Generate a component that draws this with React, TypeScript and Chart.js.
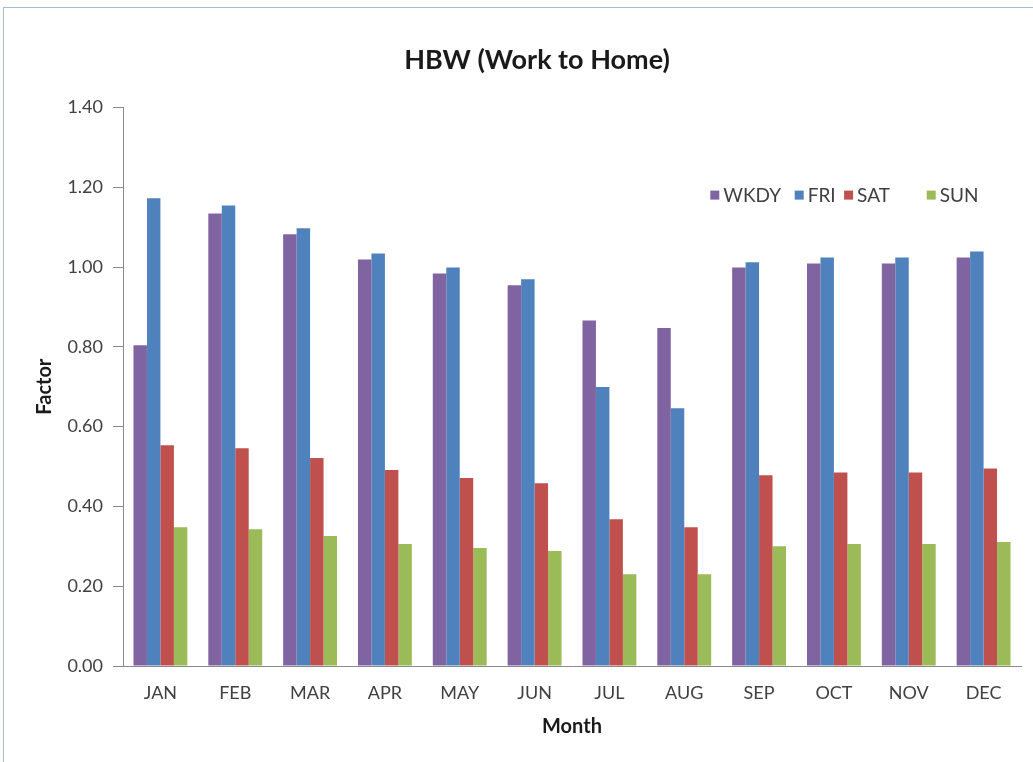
import React, { useEffect, useRef } from "react";
import { Chart, registerables } from "chart.js";

Chart.register(...registerables);

const months = ["JAN", "FEB", "MAR", "APR", "MAY", "JUN", "JUL", "AUG", "SEP", "OCT", "NOV", "DEC"];
const seriesNames = ["WKDY", "FRI", "SAT", "SUN"];
const seriesColors = ["#8064A2", "#4F81BD", "#C0504D", "#9BBB59"];
const wkdy = [0.804, 1.134, 1.082, 1.019, 0.984, 0.954, 0.866, 0.847, 0.999, 1.009, 1.009, 1.024];
const fri = [1.172, 1.154, 1.097, 1.034, 0.999, 0.969, 0.699, 0.646, 1.012, 1.024, 1.024, 1.039];
const sat = [0.553, 0.546, 0.521, 0.491, 0.471, 0.458, 0.368, 0.348, 0.478, 0.485, 0.485, 0.495];
const sun = [0.348, 0.343, 0.326, 0.306, 0.296, 0.288, 0.23, 0.23, 0.3, 0.306, 0.306, 0.311];
const yMin = 0;
const yMax = 1.4;
const yStep = 0.2;

const FONT = "Lato, 'Open Sans', sans-serif";

// legend drawn inside the plot area, top right
const legendAnchors = [0.654, 0.748, 0.803, 0.895];
const insideLegend = {
  id: "insideLegend",
  afterDraw(chart: any) {
    const { ctx, chartArea } = chart;
    const w = chartArea.right - chartArea.left;
    const h = chartArea.bottom - chartArea.top;
    const cy = chartArea.top + h * 0.157;
    ctx.save();
    ctx.font = `19px ${FONT}`;
    ctx.textBaseline = "middle";
    ctx.textAlign = "left";
    chart.data.datasets.forEach((ds: any, i: number) => {
      const x = chartArea.left + w * legendAnchors[i];
      ctx.fillStyle = ds.backgroundColor;
      ctx.fillRect(x, cy - 4.5, 9, 9);
      ctx.fillStyle = "#404040";
      ctx.fillText(ds.label, x + 13, cy + 1);
    });
    ctx.restore();
  },
};

export default function App() {
  const ref = useRef<HTMLCanvasElement | null>(null);

  useEffect(() => {
    if (!ref.current) return;
    const data = [wkdy, fri, sat, sun];
    const chart = new Chart(ref.current, {
      type: "bar",
      data: {
        labels: months,
        datasets: seriesNames.map((name, i) => ({
          label: name,
          data: data[i],
          backgroundColor: seriesColors[i],
          borderWidth: 0,
          barPercentage: 1,
          categoryPercentage: 0.72,
        })),
      },
      options: {
        responsive: false,
        animation: false,
        devicePixelRatio: 1,
        layout: { padding: { left: 53, right: 12, top: 0, bottom: 0 } },
        plugins: {
          legend: { display: false },
          tooltip: { enabled: false },
          title: {
            display: true,
            text: "HBW (Work to Home)",
            color: "#1a1a1a",
            font: { family: FONT, size: 27, weight: "bold" },
            padding: { top: 44, bottom: 31 },
          },
        },
        scales: {
          x: {
            grid: { display: false },
            border: { display: true, color: "#8a8a8a", width: 1 },
            ticks: { color: "#404040", font: { family: FONT, size: 18 }, padding: 8 },
            title: {
              display: true,
              text: "Month",
              color: "#1a1a1a",
              font: { family: FONT, size: 20, weight: "bold" },
              padding: { top: 0, bottom: 23 },
            },
            afterFit: (s: any) => {
              s.height = 96;
            },
          },
          y: {
            min: yMin,
            max: yMax,
            grid: { drawOnChartArea: false, drawTicks: true, tickLength: 10, color: "#8a8a8a" },
            border: { display: true, color: "#8a8a8a", width: 1 },
            ticks: {
              stepSize: yStep,
              color: "#404040",
              font: { family: FONT, size: 18 },
              padding: 10,
              callback: (v: any) => Number(v).toFixed(2),
            },
            title: {
              display: true,
              text: "Factor",
              color: "#1a1a1a",
              font: { family: FONT, size: 20, weight: "bold" },
              padding: { top: -20, bottom: 0 },
            },
            afterFit: (s: any) => {
              s.width = 70;
            },
          },
        },
      },
      plugins: [insideLegend],
    });
    return () => chart.destroy();
  }, []);

  return (
    <div
      style={{
        position: "absolute",
        left: 0,
        top: 0,
        width: 1033,
        height: 762,
        overflow: "hidden",
        background: "#ffffff",
      }}
    >
      <div
        style={{
          position: "absolute",
          left: 3,
          top: 7,
          width: 1100,
          height: 800,
          border: "1px solid #a9bccb",
          background: "#ffffff",
        }}
      />
      <canvas ref={ref} width={1033} height={762} style={{ position: "absolute", left: 0, top: 0 }} />
    </div>
  );
}
